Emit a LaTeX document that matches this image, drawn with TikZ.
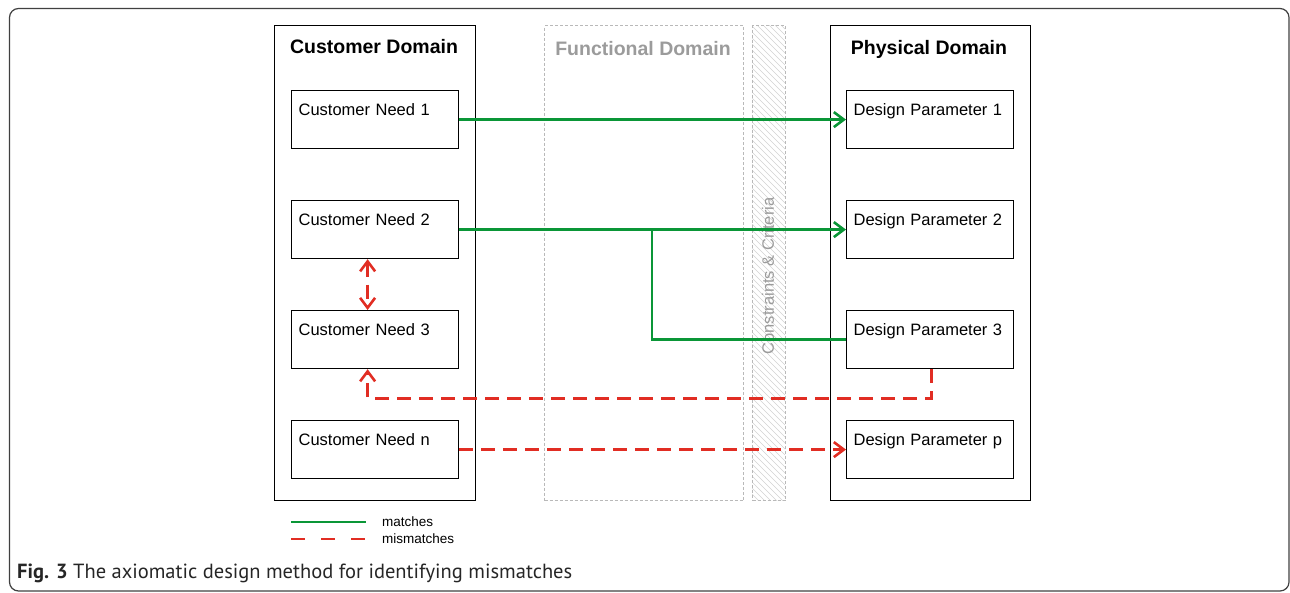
\documentclass[tikz,border=0pt]{standalone}
\usepackage{fontspec}
\setmainfont{Liberation Sans}
\newfontfamily\capfont{PT Sans}
\usetikzlibrary{arrows.meta}
\definecolor{matchgreen}{RGB}{10,150,55}
\definecolor{misred}{RGB}{225,45,35}
\definecolor{faint}{RGB}{155,155,155}
\tikzset{
  domainbox/.style={draw, line width=1.3pt, minimum width=201pt, minimum height=475pt, inner sep=0pt, anchor=north west},
  ghostbox/.style={draw=faint!70, line width=1pt, dash pattern=on 3pt off 2pt, minimum width=199pt, minimum height=475pt, inner sep=0pt, anchor=north west},
  domaintitle/.style={font=\fontsize{19.5}{22}\selectfont\bfseries, inner sep=0pt},
  itembox/.style={draw, line width=1.2pt, anchor=north west, inner xsep=7pt, inner ysep=0pt,
    text width=153pt, align=left, text height=25pt, text depth=33pt, font=\fontsize{16.5}{19}\selectfont},
  >={Straight Barb[length=10pt, width=15pt, line width=2.6pt]},
  match/.style={draw=matchgreen, line width=2.6pt},
  mis/.style={draw=misred, line width=2.6pt, dash pattern=on 14pt off 8pt},
  legendtext/.style={font=\fontsize{13.5}{15}\selectfont, anchor=west, inner sep=0pt},
}
\begin{document}
\begin{tikzpicture}[x=1pt, y=-1pt]
\useasboundingbox (0,0) rectangle (1290,592);
% figure frame
\draw[line width=1.2pt, rounded corners=9pt, black!75] (9.5,8.5) rectangle (1289,591);

% functional domain and constraints strip
\node[ghostbox] (fd) at (544,25) {};
\node[domaintitle, text=faint] (fdt) at (643,49) {Functional Domain};
\begin{scope}
  \clip (752,25) rectangle (785,500);
  \foreach \i in {-40,-34,...,500}
    \draw[faint!45, line width=0.5pt] (752,\i) -- (800,\i+48);
\end{scope}
\node[draw=faint!70, line width=1pt, dash pattern=on 3pt off 2pt, minimum width=33pt, minimum height=475pt, inner sep=0pt, anchor=north west] (cc) at (752,25) {};
\node[rotate=90, text=faint, font=\fontsize{16.5}{19}\selectfont, inner sep=0pt] (cct) at (768,276) {Constraints \& Criteria};

% customer domain
\node[domainbox] (cd) at (274,25) {};
\node[domaintitle] (cdt) at (374,46.5) {Customer Domain};
\node[itembox] (cn1) at (291,90) {Customer Need 1};
\node[itembox] (cn2) at (291,200) {Customer Need 2};
\node[itembox] (cn3) at (291,310) {Customer Need 3};
\node[itembox] (cnn) at (291,420) {Customer Need n};

% physical domain
\node[domainbox, minimum width=200pt] (pd) at (830,25) {};
\node[domaintitle] (pdt) at (929,49) {Physical Domain};
\node[itembox] (dp1) at (846,90) {Design Parameter 1};
\node[itembox] (dp2) at (846,200) {Design Parameter 2};
\node[itembox] (dp3) at (846,310) {Design Parameter 3};
\node[itembox] (dpp) at (846,420) {Design Parameter p};

% matches
\draw[match, ->] (cn1.east) -- (dp1.west);
\draw[match, ->] (cn2.east) -- (dp2.west);
\coordinate (br) at (652,229);
\draw[match] (br) |- (dp3.west);

% mismatches
\draw[mis, <->] ([xshift=-7.5pt]cn2.south) -- ([xshift=-7.5pt]cn3.north);
\draw[mis, ->] ([xshift=1.5pt]dp3.south) -- ++(0,29) -| ([xshift=-7.5pt]cn3.south);
\draw[mis, ->] (cnn.east) -- (dpp.west);

% legend
\coordinate (lga) at (291,522);
\coordinate (lgb) at (366,522);
\coordinate (lgc) at (291,539);
\coordinate (lgd) at (366,539);
\draw[match] (lga) -- (lgb);
\draw[mis, dash pattern=on 14pt off 16pt, dash phase=0pt] (lgc) -- (lgd);
\node[legendtext] (lgm) at (382,522) {matches};
\node[legendtext] (lgx) at (382,539) {mismatches};

% caption
\node[anchor=base west, inner sep=0pt, font=\capfont\fontsize{20.5}{23}\selectfont, text=black!85] (cap) at (17,578)
  {{\bfseries Fig. 3} The axiomatic design method for identifying mismatches};
\end{tikzpicture}
\end{document}
